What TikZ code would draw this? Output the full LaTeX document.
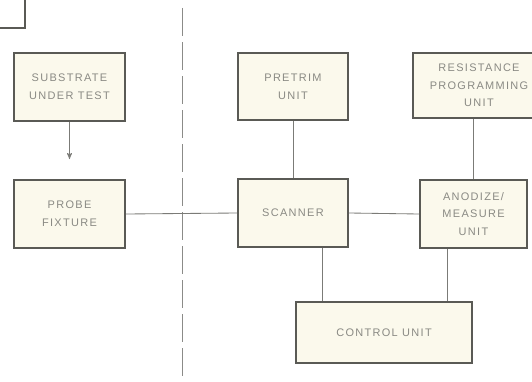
\documentclass[tikz,border=0pt]{standalone}
\usepackage{fontspec}
\setsansfont{Liberation Sans}[LetterSpace=12]
\usetikzlibrary{arrows}

\definecolor{boxfill}{HTML}{FBF9EC}
\definecolor{boxline}{HTML}{5A5A55}
\definecolor{txtgray}{HTML}{8A8A84}

\tikzset{
  unit/.style={draw=boxline,line width=1.3pt,fill=boxfill,align=center,
    inner sep=1pt,text=txtgray,font=\sffamily\fontsize{7.8}{12.5}\selectfont},
  wire/.style={draw=boxline!80,line width=0.6pt}
}

\begin{document}
\begin{tikzpicture}[x=0.025cm,y=-0.025cm,>=stealth']
            \useasboundingbox (0,0) rectangle (532,381);
            \clip (0,0) rectangle (532,381);
            \fill[white] (0,0) rectangle (532,381);

            % box cut off at the corner
            \draw[boxline,line width=1.3pt] (-30,-30) rectangle (25,28);

            % divider
            \coordinate (dtop) at (182,8);
            \coordinate (dbot) at (182,381);
            \draw[boxline!70,line width=0.6pt,dash pattern=on 0.7cm off 0.15cm] (dtop) -- (dbot);

            % left side
            \node[unit,minimum width=2.775cm,minimum height=1.7cm] (sub) at (69.5,87) {SUBSTRATE\\UNDER TEST};
            \node[unit,minimum width=2.775cm,minimum height=1.7cm] (probe) at (69.5,214) {PROBE\\FIXTURE};

            % right side
            \node[unit,minimum width=2.75cm,minimum height=1.675cm] (pretrim) at (293,86.5) {PRETRIM\\UNIT};
            \node[unit,minimum width=3.3cm,minimum height=1.625cm] (resist) at (479,85.5) {RESISTANCE\\PROGRAMMING\\UNIT};
            \node[unit,minimum width=2.75cm,minimum height=1.7cm] (scanner) at (293,213) {SCANNER};
            \node[unit,minimum width=2.675cm,minimum height=1.7cm] (anodize) at (473.5,214) {ANODIZE/\\MEASURE\\UNIT};
            \node[unit,minimum width=4.4cm,minimum height=1.525cm] (control) at (384,332.5) {CONTROL UNIT};

            % connections
            \draw[wire,->,shorten >=0.5cm] (sub) -- (probe);
            \draw[wire] (probe.east) -- (scanner.west);
            \draw[wire] (scanner.east) -- (anodize.west);
            \draw[wire] (pretrim) -- (scanner);
            \draw[wire] (anodize.north) -- (anodize.north |- resist.south);
            \draw[wire] ([xshift=0.725cm]scanner.south) -- ([xshift=0.725cm]scanner.south |- control.north);
            \draw[wire] ([xshift=-0.66cm]anodize.south) -- ([xshift=-0.66cm]anodize.south |- control.north);
        \end{tikzpicture}
\end{document}
